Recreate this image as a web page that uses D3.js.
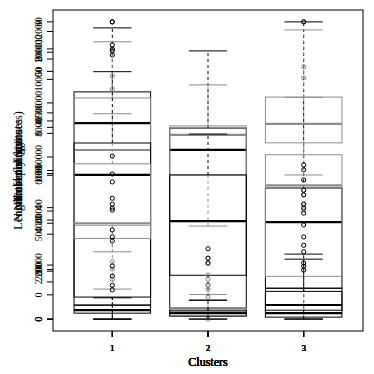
<!DOCTYPE html>
<html>
<head>
<meta charset="utf-8">
<script src="https://cdn.jsdelivr.net/npm/d3@7"></script>
<style>
  body { margin: 0; background: #fff; }
  svg text { font-family: "Liberation Serif", "DejaVu Serif", serif; }
</style>
</head>
<body>
<svg id="chart" width="374" height="374"></svg>
<script>
(function() {
  var svg, xScale, plot, boxW, stapleW, vars, gray;

  // cluster labels on the x axis
  var clusters = [1, 2, 3];

  // one boxplot per variable, all overlaid (par(new=TRUE) style)
  // stats per cluster: [lower whisker, q1, median, q3, upper whisker]
  var losStats = [[0, 920, 8180, 9480, 12150], [0, 460, 7060, 7970, 11190], [0, 1290, 4050, 5470, 12400]];
  var losOut = [[12400], [], []];

  var chargeStats = [[11110, 34760, 62590, 81840, 102630], [34430, 53350, 68200, 71500, 86680], [53350, 65230, 72270, 82170, 107030]];
  var chargeOut = [[], [22550, 20790, 12540, 8140, 0], [110000, 47740, 45980, 42240, 40370]];

  var diagStats = [[1, 1.38, 4.88, 5.74, 7.66], [1.51, 2.18, 3.64, 4.88, 5.98], [1, 1.24, 1.38, 1.83, 2.75]];
  var diagOut = [[9, 8.38, 8.27, 8.22, 8.11], [], [2.51, 2.42, 2.32, 5.15, 5.02, 4.10, 3.99]];

  var costStats = [[355, 465, 590, 1080, 1493], [-200, -175, -140, -108, 3], [-200, 153, 903, 1155, 1628]];
  var costOut = [[1803, 1695, 273, 213, 128], [163, 128, 85, 45], [2250, 1880, 1788]];

  var visitStats = [[0, 1.2, 1.8, 2.8, 4.3], [0, 0.6, 1.2, 1.8, 3.8], [0, 0.4, 1.2, 5.6, 12.1]];
  var visitOut = [[32.9, 29.3, 27.7, 24.4, 23.2, 22.4, 22.0, 18.0, 16.6, 15.8, 10.7, 8.7, 6.8, 5.9], [14.2, 12.3, 11.3], [60, 28.1, 26.0, 25.1, 21.4, 19.0, 16.6, 14.9, 13.6]];

  var titles = ['Length of stay (minutes)', 'Total charges', 'Number of diagnoses', 'Cost per day', 'Number of visits'];

  gray = '#8c8c8c';
  vars = [
    { title: titles[0], stats: losStats, out: losOut, col: '#000' },
    { title: titles[1], stats: chargeStats, out: chargeOut, col: gray },
    { title: titles[2], stats: diagStats, out: diagOut, col: '#000' },
    { title: titles[3], stats: costStats, out: costOut, col: gray },
    { title: titles[4], stats: visitStats, out: visitOut, col: '#000' }
  ];

  plot = { left: 53, right: 363, top: 10, bottom: 331 };
  svg = d3.select('#chart');

  // R: xlim c(0.5, n + 0.5) plus 4% padding
  xScale = d3.scaleLinear()
    .domain([0.5 - 0.12, clusters.length + 0.5 + 0.12])
    .range([plot.left, plot.right]);
  boxW = xScale(1.4) - xScale(1);
  stapleW = xScale(1.2) - xScale(1);

  vars.forEach(function(v) {
    var all, ext, pad, y, g, ax, xa;
    all = [];
    v.stats.forEach(function(s, i) { all = all.concat(s, v.out[i]); });
    ext = d3.extent(all);
    pad = (ext[1] - ext[0]) * 0.04;
    y = d3.scaleLinear().domain([ext[0] - pad, ext[1] + pad]).range([plot.bottom, plot.top]);

    g = svg.append('g').attr('stroke', v.col).attr('fill', 'none');

    clusters.forEach(function(c, i) {
      var s = v.stats[i], cx = xScale(c);
      // whiskers
      g.append('line').attr('x1', cx).attr('x2', cx).attr('y1', y(s[3])).attr('y2', y(s[4]))
        .attr('stroke-dasharray', '3,3');
      g.append('line').attr('x1', cx).attr('x2', cx).attr('y1', y(s[1])).attr('y2', y(s[0]))
        .attr('stroke-dasharray', '3,3');
      // staples
      [s[0], s[4]].forEach(function(val) {
        g.append('line').attr('x1', cx - stapleW).attr('x2', cx + stapleW)
          .attr('y1', y(val)).attr('y2', y(val));
      });
      // box
      g.append('rect').attr('x', cx - boxW).attr('width', boxW * 2)
        .attr('y', y(s[3])).attr('height', y(s[1]) - y(s[3]));
      // median
      g.append('line').attr('x1', cx - boxW).attr('x2', cx + boxW)
        .attr('y1', y(s[2])).attr('y2', y(s[2])).attr('stroke-width', 2.2);
      // outliers
      g.selectAll(null).data(v.out[i]).enter().append('circle')
        .attr('cx', cx).attr('cy', function(d) { return y(d); }).attr('r', 2.1);
    });

    // y axis, labels parallel to the axis
    ax = svg.append('g');
    y.ticks(5).forEach(function(t) {
      ax.append('line').attr('x1', plot.left - 6).attr('x2', plot.left)
        .attr('y1', y(t)).attr('y2', y(t)).attr('stroke', '#000');
      ax.append('text').attr('transform', 'translate(42,' + y(t) + ') rotate(-90)')
        .attr('text-anchor', 'middle').attr('font-size', 9.5).text(String(t).replace('-', '\u2212'));
    });
    svg.append('text').attr('transform', 'translate(22,' + ((plot.top + plot.bottom) / 2) + ') rotate(-90)')
      .attr('text-anchor', 'middle').attr('font-size', 12).text(v.title);

    // x axis
    xa = svg.append('g');
    clusters.forEach(function(c) {
      xa.append('line').attr('x1', xScale(c)).attr('x2', xScale(c))
        .attr('y1', plot.bottom).attr('y2', plot.bottom + 6).attr('stroke', '#000');
      xa.append('text').attr('x', xScale(c)).attr('y', 351).attr('text-anchor', 'middle')
        .attr('font-size', 9).text(c);
    });
    svg.append('text').attr('x', (plot.left + plot.right) / 2).attr('y', 366)
      .attr('text-anchor', 'middle').attr('font-size', 12).text('Clusters');
  });

  // frame
  svg.append('rect').attr('x', plot.left).attr('y', plot.top)
    .attr('width', plot.right - plot.left).attr('height', plot.bottom - plot.top)
    .attr('fill', 'none').attr('stroke', '#000');

}).call(this);
</script>
</body>
</html>
